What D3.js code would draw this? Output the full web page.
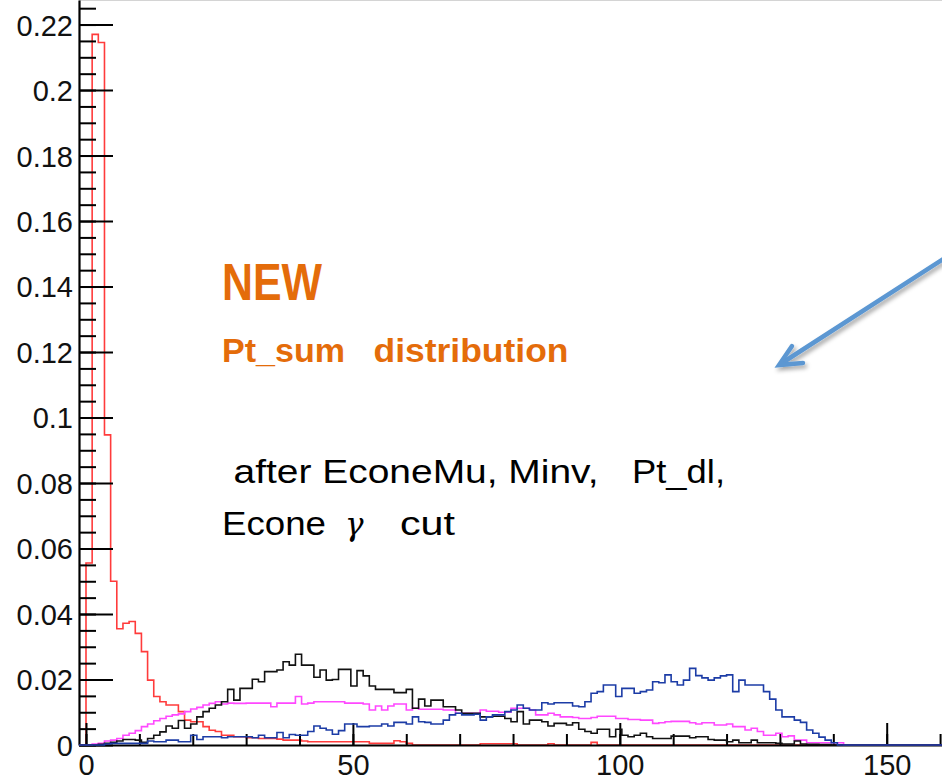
<!DOCTYPE html>
<html>
<head>
<meta charset="utf-8">
<script src="https://cdn.jsdelivr.net/npm/d3@7"></script>
<style>
  body { margin: 0; background: #fff; }
  svg { display: block; }
</style>
</head>
<body>
<svg id="chart" width="942" height="779"></svg>
<script>
// Pt_sum histograms: 130 bins over [0, 150]
const binWidth = 150 / 130;

const redHist = [
  0.0556, 0.2170, 0.2145, 0.0947, 0.0500, 0.0355, 0.0372, 0.0377, 0.0341, 0.0285,
  0.0198, 0.0148, 0.0132, 0.0122, 0.0122, 0.0102, 0.0076, 0.0071, 0.0071, 0.0056,
  0.0045, 0.0041, 0.0030, 0.0030, 0.0025, 0.0025, 0.0022, 0.0022, 0.0020, 0.0020,
  0.0020, 0.0018, 0.0015, 0.0015, 0.0015, 0.0012, 0.0010, 0.0010, 0.0010, 0.0010,
  0.0010, 0.0010, 0.0010, 0.0010, 0.0010, 0.0010, 0.0005, 0.0005, 0.0005, 0.0005,
  0.0013, 0.0010, 0.0005, 0, 0, 0, 0, 0, 0, 0,
  0, 0, 0, 0, 0.0004, 0.0004, 0.0004, 0.0004, 0.0004, 0.0004,
  0, 0, 0, 0, 0, 0.0004, 0, 0, 0, 0,
  0, 0, 0.0008
];

const blackHist = [
  0, 0, 0.0002, 0.0005, 0.0008, 0.0012, 0.0017, 0.0017, 0.0015, 0.0008,
  0.0020, 0.0030, 0.0040, 0.0058, 0.0051, 0.0075, 0.0051, 0.0064, 0.0086, 0.0102,
  0.0112, 0.0122, 0.0132, 0.0170, 0.0137, 0.0173, 0.0173, 0.0201, 0.0193, 0.0224,
  0.0224, 0.0229, 0.0254, 0.0244, 0.0277, 0.0244, 0.0244, 0.0207, 0.0229, 0.0198,
  0.0200, 0.0231, 0.0231, 0.0180, 0.0227, 0.0211, 0.0180, 0.0170, 0.0170, 0.0170,
  0.0160, 0.0160, 0.0170, 0.0112, 0.0140, 0.0119, 0.0137, 0.0137, 0.0117, 0.0117,
  0.0107, 0.0097, 0.0097, 0.0097, 0.0086, 0.0086, 0.0088, 0.0088, 0.0081, 0.0071,
  0.0102, 0.0064, 0.0076, 0.0076, 0.0071, 0.0058, 0.0066, 0.0066, 0.0061, 0.0068,
  0.0048, 0.0041, 0.0036, 0.0048, 0.0048, 0.0025, 0.0048, 0.0030, 0.0025, 0.0030,
  0.0036, 0.0025, 0.0020, 0.0020, 0.0020, 0.0027, 0.0027, 0.0027, 0.0022, 0.0025,
  0.0025, 0.0017, 0.0015, 0.0015, 0.0010, 0.0015, 0.0007, 0.0007, 0.0015, 0.0007,
  0.0007, 0.0007, 0.0005, 0.0003, 0.0003, 0.0012, 0.0003, 0.0002, 0.0002, 0.0001,
  0.0001
];

const magentaHist = [
  0, 0.0003, 0.0005, 0.0012, 0.0015, 0.0020, 0.0030, 0.0036, 0.0044, 0.0056,
  0.0064, 0.0074, 0.0081, 0.0088, 0.0092, 0.0095, 0.0102, 0.0110, 0.0115, 0.0122,
  0.0127, 0.0132, 0.0125, 0.0128, 0.0127, 0.0127, 0.0128, 0.0128, 0.0128, 0.0128,
  0.0117, 0.0128, 0.0128, 0.0128, 0.0148, 0.0125, 0.0128, 0.0132, 0.0132, 0.0132,
  0.0132, 0.0132, 0.0128, 0.0128, 0.0128, 0.0125, 0.0107, 0.0119, 0.0107, 0.0119,
  0.0125, 0.0125, 0.0107, 0.0112, 0.0109, 0.0109, 0.0109, 0.0109, 0.0107, 0.0107,
  0.0097, 0.0097, 0.0097, 0.0097, 0.0107, 0.0103, 0.0103, 0.0100, 0.0100, 0.0112,
  0.0112, 0.0112, 0.0107, 0.0092, 0.0092, 0.0097, 0.0092, 0.0086, 0.0086, 0.0084,
  0.0081, 0.0081, 0.0084, 0.0088, 0.0088, 0.0088, 0.0081, 0.0081, 0.0078, 0.0078,
  0.0076, 0.0076, 0.0066, 0.0068, 0.0071, 0.0072, 0.0072, 0.0072, 0.0068, 0.0064,
  0.0068, 0.0068, 0.0061, 0.0061, 0.0064, 0.0056, 0.0056, 0.0046, 0.0051, 0.0041,
  0.0030, 0.0030, 0.0036, 0.0025, 0.0028, 0.0015, 0.0015, 0.0007, 0.0007, 0.0007,
  0.0007, 0.0007, 0.0007
];

const blueHist = [
  0, 0, 0, 0.0003, 0.0005, 0.0005, 0.0005, 0.0005, 0.0005, 0.0005,
  0.0012, 0.0010, 0.0010, 0.0015, 0.0015, 0.0010, 0.0010, 0.0030, 0.0017, 0.0025,
  0.0025, 0.0025, 0.0022, 0.0025, 0.0025, 0.0025, 0.0025, 0.0022, 0.0030, 0.0022,
  0.0022, 0.0038, 0.0022, 0.0032, 0.0030, 0.0030, 0.0041, 0.0058, 0.0051, 0.0046,
  0.0033, 0.0044, 0.0064, 0.0064, 0.0056, 0.0056, 0.0058, 0.0058, 0.0064, 0.0058,
  0.0069, 0.0069, 0.0064, 0.0086, 0.0071, 0.0069, 0.0064, 0.0064, 0.0076, 0.0092,
  0.0097, 0.0092, 0.0092, 0.0094, 0.0076, 0.0086, 0.0092, 0.0092, 0.0102, 0.0107,
  0.0122, 0.0112, 0.0107, 0.0107, 0.0129, 0.0125, 0.0129, 0.0129, 0.0129, 0.0119,
  0.0117, 0.0132, 0.0158, 0.0163, 0.0183, 0.0183, 0.0148, 0.0173, 0.0173, 0.0158,
  0.0163, 0.0168, 0.0193, 0.0190, 0.0214, 0.0193, 0.0183, 0.0198, 0.0234, 0.0212,
  0.0205, 0.0198, 0.0205, 0.0211, 0.0214, 0.0163, 0.0198, 0.0183, 0.0183, 0.0183,
  0.0163, 0.0140, 0.0107, 0.0086, 0.0086, 0.0076, 0.0069, 0.0046, 0.0036, 0.0024,
  0.0015, 0.0007
];

const xMajorTicks = [0, 50, 100, 150];
const xMinorStep = 10;
const yMajorTicks = [0, 0.02, 0.04, 0.06, 0.08, 0.1, 0.12, 0.14, 0.16, 0.18, 0.2, 0.22];
const yMinorStep = 0.005;

const svg = d3.select("#chart");
const W = 942, H = 779;
const left = 79, bottom = 745;

const x = d3.scaleLinear().domain([-1.311, 160.36]).range([left, W]);
const y = d3.scaleLinear().domain([0, 0.2275]).range([bottom, 0]);

const defs = svg.append("defs");
defs.append("clipPath").attr("id", "plotClip")
  .append("rect").attr("x", left).attr("y", 0).attr("width", W - left).attr("height", bottom + 2);
const shadow = defs.append("filter").attr("id", "arrowShadow")
  .attr("x", "-20%").attr("y", "-20%").attr("width", "140%").attr("height", "140%");
shadow.append("feDropShadow").attr("dx", 2).attr("dy", 3).attr("stdDeviation", 2)
  .attr("flood-color", "#000").attr("flood-opacity", 0.35);

// step outline of a histogram, running along zero outside the filled bins
function stepPoints(vals) {
  const [x0, x1] = x.domain();
  const pts = [[x0, 0], [0, 0]];
  vals.forEach((v, i) => {
    pts.push([i * binWidth, v]);
    pts.push([(i + 1) * binWidth, v]);
  });
  pts.push([vals.length * binWidth, 0]);
  pts.push([x1, 0]);
  return pts;
}
const stepLine = d3.line().x(d => x(d[0])).y(d => y(d[1]));

const plot = svg.append("g").attr("clip-path", "url(#plotClip)");
function drawHist(g, vals, color) {
  g.append("path")
    .attr("d", stepLine(stepPoints(vals)))
    .attr("fill", "none")
    .attr("stroke", color)
    .attr("stroke-width", 1.6)
    .attr("stroke-linejoin", "miter");
}

// first histogram goes under the frame axes
drawHist(plot, redHist, "#ff3b3b");

// faint top border of the frame
svg.append("line").attr("x1", left).attr("x2", W).attr("y1", 0.5).attr("y2", 0.5)
  .attr("stroke", "#d4d4d4").attr("stroke-width", 1);

const labelFont = "'Liberation Sans', Arial, Helvetica, sans-serif";
const fmt = v => String(+v.toFixed(3));

// y axis
const yMinor = d3.range(0, 0.2275 + 1e-9, yMinorStep);
svg.append("g").attr("transform", `translate(${left},0)`)
  .call(d3.axisLeft(y).tickValues(yMinor).tickSizeInner(-17).tickSizeOuter(0).tickFormat(""))
  .call(g => g.select(".domain").remove())
  .call(g => g.selectAll(".tick line").attr("stroke", "#000").attr("stroke-width", 2));
const yAxisG = svg.append("g").attr("transform", `translate(${left},0)`)
  .call(d3.axisLeft(y).tickValues(yMajorTicks).tickSizeInner(-34).tickSizeOuter(0)
    .tickPadding(6).tickFormat(fmt));
yAxisG.select(".domain").attr("stroke", "#000").attr("stroke-width", 2.2);
yAxisG.selectAll(".tick line").attr("stroke", "#000").attr("stroke-width", 2);
yAxisG.selectAll(".tick text")
  .attr("font-family", labelFont).attr("font-size", 29).attr("fill", "#111").attr("dy", "0.36em");

// x axis
const xMinor = d3.range(0, 160.36, xMinorStep);
svg.append("g").attr("transform", `translate(0,${bottom})`)
  .call(d3.axisBottom(x).tickValues(xMinor).tickSizeInner(-11).tickSizeOuter(0).tickFormat(""))
  .call(g => g.select(".domain").remove())
  .call(g => g.selectAll(".tick line").attr("stroke", "#000").attr("stroke-width", 2));
const xAxisG = svg.append("g").attr("transform", `translate(0,${bottom})`)
  .call(d3.axisBottom(x).tickValues(xMajorTicks).tickSizeInner(-22).tickSizeOuter(0)
    .tickPadding(9).tickFormat(fmt));
xAxisG.select(".domain").attr("stroke", "#000").attr("stroke-width", 2.2);
xAxisG.selectAll(".tick line").attr("stroke", "#000").attr("stroke-width", 2);
xAxisG.selectAll(".tick text")
  .attr("font-family", labelFont).attr("font-size", 29).attr("fill", "#111");

// remaining histograms drawn over the axes
const plot2 = svg.append("g").attr("clip-path", "url(#plotClip)");
drawHist(plot2, magentaHist, "#ff48ff");
drawHist(plot2, blackHist, "#111111");
drawHist(plot2, blueHist, "#1c3ca6");

// annotations
const noteFont = "'Liberation Sans', Arial, sans-serif";
const orange = "#e46c0a";
function note(txt, px, py, size, width, color, weight) {
  return svg.append("text").attr("x", px).attr("y", py)
    .attr("font-family", noteFont).attr("font-size", size)
    .attr("font-weight", weight || "normal").attr("fill", color)
    .attr("textLength", width).attr("lengthAdjust", "spacingAndGlyphs")
    .text(txt);
}
note("NEW", 222, 300, 51, 100, orange, "bold");
note("Pt_sum", 222, 362, 32.5, 123, orange, "bold");
note("distribution", 373.5, 362, 32.5, 195, orange, "bold");
note("after EconeMu, Minv,", 233.5, 483, 34, 365, "#000");
note("Pt_dl,", 632, 483, 34, 93, "#000");
note("Econe", 222, 535, 34, 104, "#000");
svg.append("text").attr("x", 345).attr("y", 535)
  .attr("font-family", "'DejaVu Serif', serif").attr("font-style", "italic")
  .attr("font-size", 31).attr("fill", "#000").text("\u03b3");
note("cut", 400, 535, 34, 55, "#000");

// pointer arrow
const arrowColor = "#5b97d2";
const arrow = svg.append("g").attr("filter", "url(#arrowShadow)");
const tip = [779, 365], tail = [962, 247];
arrow.append("line").attr("x1", tail[0]).attr("y1", tail[1]).attr("x2", tip[0] + 3).attr("y2", tip[1] - 2)
  .attr("stroke", arrowColor).attr("stroke-width", 4.5).attr("stroke-linecap", "round");
arrow.append("path")
  .attr("d", `M${tip[0] + 13},${tip[1] - 19} L${tip[0]},${tip[1]} L${tip[0] + 24},${tip[1] - 2}`)
  .attr("fill", "none").attr("stroke", arrowColor).attr("stroke-width", 4.5)
  .attr("stroke-linecap", "round").attr("stroke-linejoin", "miter");
</script>
</body>
</html>
